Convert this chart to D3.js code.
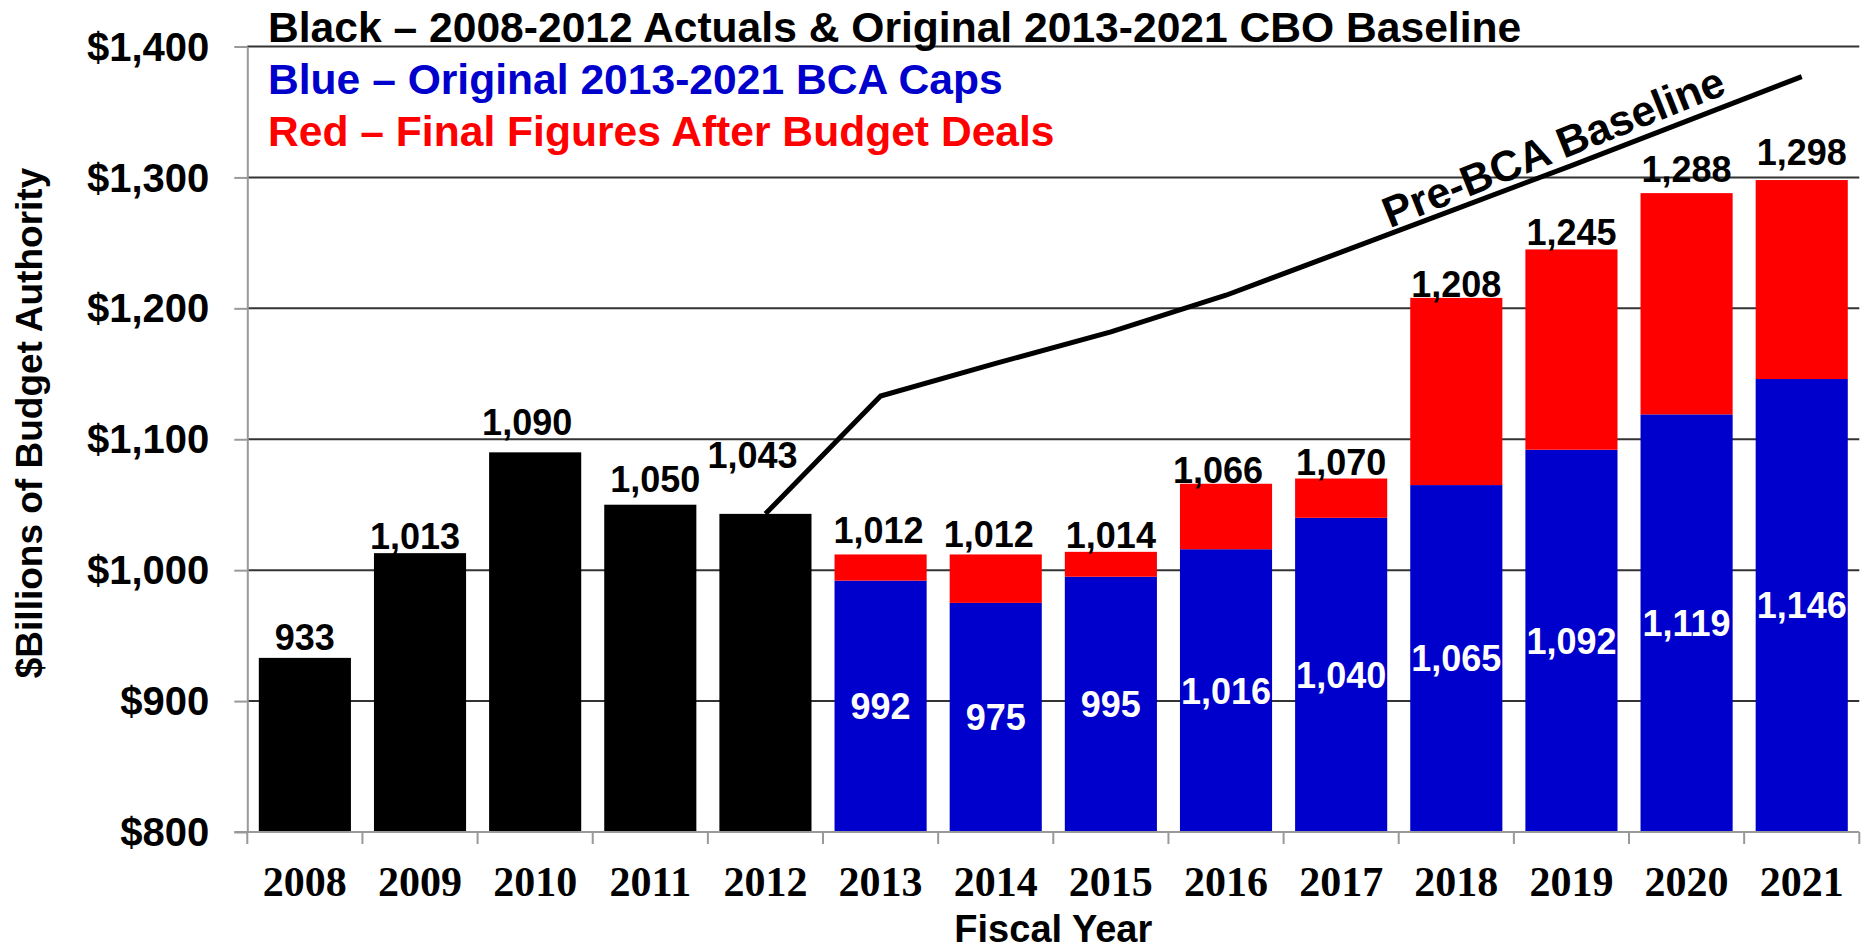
<!DOCTYPE html>
<html>
<head>
<meta charset="utf-8">
<script src="https://cdn.jsdelivr.net/npm/d3@7"></script>
<style>
  html, body { margin: 0; padding: 0; background: #fff; }
  svg { display: block; }
</style>
</head>
<body>
<svg id="chart" width="1872" height="951"></svg>
<script>
// ---- data ($ billions of budget authority) ----
const years = ["2008", "2009", "2010", "2011", "2012", "2013", "2014",
               "2015", "2016", "2017", "2018", "2019", "2020", "2021"];

const actualYears = ["2008", "2009", "2010", "2011", "2012"];
const actuals = [933, 1013, 1090, 1050, 1043];

const capYears = ["2013", "2014", "2015", "2016", "2017", "2018", "2019", "2020", "2021"];
const bcaCaps = [992, 975, 995, 1016, 1040, 1065, 1092, 1119, 1146];
const finalFigures = [1012, 1012, 1014, 1066, 1070, 1208, 1245, 1288, 1298];

const baselineYears = ["2012", "2013", "2014", "2015", "2016", "2017", "2018", "2019", "2020", "2021"];
const preBcaBaseline = [1043, 1133, 1158, 1182, 1210, 1243, 1276, 1309, 1343, 1377];

const yTicks = [800, 900, 1000, 1100, 1200, 1300, 1400];

const legendLines = [
  { text: "Black \u2013 2008-2012 Actuals & Original 2013-2021 CBO Baseline", color: "#000000" },
  { text: "Blue \u2013 Original 2013-2021 BCA Caps", color: "#0000CC" },
  { text: "Red \u2013 Final Figures After Budget Deals", color: "#FF0000" }
];

// ---- layout ----
const plot = { left: 247.3, right: 1859.3, top: 46.5, bottom: 832 };
const SANS = "'Liberation Sans', Arial, Helvetica, sans-serif";
const SERIF = "'Liberation Serif', 'Times New Roman', serif";
const BLUE = "#0000CC", RED = "#FF0000", GRID = "#333333", AXIS = "#999999";

// per-year placement tweaks for the total labels: [dx, lift above bar top]
const totalLabelNudge = {
  "2008": [0, 8], "2009": [-5, 4], "2010": [-8, 17], "2011": [5, 13], "2012": [-13, 46],
  "2013": [-2, 11], "2014": [-7, 7], "2015": [0, 4], "2016": [-8, 1], "2017": [0, 4],
  "2018": [0, 1], "2019": [0, 4], "2020": [0, 11], "2021": [0, 15]
};

const svg = d3.select("#chart");

const x = d3.scaleBand().domain(years)
  .range([plot.left, plot.right]).paddingInner(0.2).paddingOuter(0.1);
const y = d3.scaleLinear().domain([800, 1400]).range([plot.bottom, plot.top]);
const cx = d => x(d) + x.bandwidth() / 2;

// horizontal gridlines
svg.append("g").selectAll("line")
  .data(yTicks.filter(v => v > 800))
  .join("line")
  .attr("x1", plot.left).attr("x2", plot.right)
  .attr("y1", d => y(d)).attr("y2", d => y(d))
  .attr("stroke", GRID).attr("stroke-width", 2);

// black actual bars
svg.append("g").selectAll("rect")
  .data(actualYears.map((yr, i) => ({ yr, v: actuals[i] })))
  .join("rect")
  .attr("x", d => x(d.yr)).attr("width", x.bandwidth())
  .attr("y", d => y(d.v)).attr("height", d => y(800) - y(d.v))
  .attr("fill", "#000");

// blue BCA caps with red increases stacked on top
const capData = capYears.map((yr, i) => ({ yr, cap: bcaCaps[i], fin: finalFigures[i] }));
svg.append("g").selectAll("rect")
  .data(capData).join("rect")
  .attr("x", d => x(d.yr)).attr("width", x.bandwidth())
  .attr("y", d => y(d.cap)).attr("height", d => y(800) - y(d.cap))
  .attr("fill", BLUE);
svg.append("g").selectAll("rect")
  .data(capData).join("rect")
  .attr("x", d => x(d.yr)).attr("width", x.bandwidth())
  .attr("y", d => y(d.fin)).attr("height", d => y(d.cap) - y(d.fin))
  .attr("fill", RED);

// y axis
const yAxis = svg.append("g")
  .attr("transform", `translate(${plot.left},0)`)
  .call(d3.axisLeft(y).tickValues(yTicks).tickSizeInner(13).tickSizeOuter(0)
    .tickPadding(25).tickFormat(d => "$" + d3.format(",")(d)));
yAxis.select(".domain").attr("stroke", AXIS).attr("stroke-width", 2);
yAxis.selectAll(".tick line").attr("stroke", AXIS).attr("stroke-width", 2);
yAxis.selectAll(".tick text")
  .attr("font-family", SANS).attr("font-weight", "bold").attr("font-size", 40)
  .attr("fill", "#000").attr("dy", "0.34em");

// x axis: labels centred on bars, ticks on category boundaries
const xAxis = svg.append("g")
  .attr("transform", `translate(0,${plot.bottom})`)
  .call(d3.axisBottom(x).tickSize(0).tickPadding(34));
xAxis.select(".domain").remove();
xAxis.selectAll(".tick text")
  .attr("font-family", SERIF).attr("font-weight", "bold").attr("font-size", 42)
  .attr("fill", "#000");
svg.append("line")
  .attr("x1", plot.left - 13).attr("x2", plot.right)
  .attr("y1", plot.bottom).attr("y2", plot.bottom)
  .attr("stroke", AXIS).attr("stroke-width", 2);
svg.append("g").selectAll("line")
  .data(d3.range(years.length + 1))
  .join("line")
  .attr("x1", i => plot.left + i * x.step()).attr("x2", i => plot.left + i * x.step())
  .attr("y1", plot.bottom).attr("y2", plot.bottom + 12)
  .attr("stroke", AXIS).attr("stroke-width", 2);

// axis titles
svg.append("text")
  .attr("x", (plot.left + plot.right) / 2).attr("y", 942)
  .attr("text-anchor", "middle")
  .attr("font-family", SANS).attr("font-weight", "bold").attr("font-size", 38)
  .text("Fiscal Year");
svg.append("text")
  .attr("transform", "translate(42,423) rotate(-90)")
  .attr("text-anchor", "middle")
  .attr("font-family", SANS).attr("font-weight", "bold").attr("font-size", 37)
  .text("$Billions of Budget Authority");

// Pre-BCA baseline line
const basePts = baselineYears.map((yr, i) => ({ yr, v: preBcaBaseline[i] }));
svg.append("path")
  .datum(basePts)
  .attr("d", d3.line().x(d => cx(d.yr)).y(d => y(d.v)))
  .attr("fill", "none").attr("stroke", "#000").attr("stroke-width", 5)
  .attr("stroke-linejoin", "miter");

// line caption, laid along the 2018-2019 segment
{
  const a = basePts.find(d => d.yr === "2018"), b = basePts.find(d => d.yr === "2019");
  const p = basePts.find(d => d.yr === "2017"), q = basePts.find(d => d.yr === "2020");
  const t = 0.92;
  const px = cx(a.yr) + t * (cx(b.yr) - cx(a.yr));
  const py = y(a.v) + t * (y(b.v) - y(a.v));
  const ang = Math.atan2(y(q.v) - y(p.v), cx(q.yr) - cx(p.yr)) * 180 / Math.PI - 1;
  svg.append("text")
    .attr("transform", `translate(${px},${py}) rotate(${ang})`)
    .attr("y", -9)
    .attr("text-anchor", "middle")
    .attr("font-family", SANS).attr("font-weight", "bold").attr("font-size", 43)
    .text("Pre-BCA Baseline");
}

// total labels above each bar
const totals = years.map(yr => {
  const ai = actualYears.indexOf(yr);
  return { yr, v: ai >= 0 ? actuals[ai] : finalFigures[capYears.indexOf(yr)] };
});
svg.append("g").selectAll("text")
  .data(totals).join("text")
  .attr("x", d => cx(d.yr) + totalLabelNudge[d.yr][0])
  .attr("y", d => y(d.v) - totalLabelNudge[d.yr][1])
  .attr("text-anchor", "middle")
  .attr("font-family", SANS).attr("font-weight", "bold").attr("font-size", 36)
  .attr("fill", "#000")
  .text(d => d3.format(",")(d.v));

// cap values inside the blue segments
svg.append("g").selectAll("text")
  .data(capData).join("text")
  .attr("x", d => cx(d.yr))
  .attr("y", d => (y(d.cap) + y(800)) / 2)
  .attr("dy", "0.36em")
  .attr("text-anchor", "middle")
  .attr("font-family", SANS).attr("font-weight", "bold").attr("font-size", 36)
  .attr("fill", "#fff")
  .text(d => d3.format(",")(d.cap));

// colour key at top
svg.append("g").selectAll("text")
  .data(legendLines).join("text")
  .attr("x", 268).attr("y", (d, i) => 42 + i * 52)
  .attr("font-family", SANS).attr("font-weight", "bold").attr("font-size", 42.6)
  .attr("fill", d => d.color)
  .text(d => d.text);
</script>
</body>
</html>
